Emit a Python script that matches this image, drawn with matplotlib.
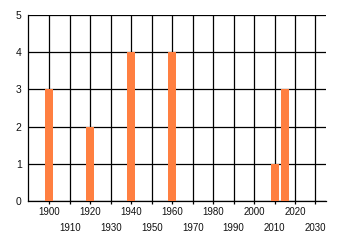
import matplotlib
matplotlib.use("Agg")
import matplotlib.pyplot as plt

years = [1900, 1920, 1940, 1960, 2010, 2015]
values = [3, 2, 4, 4, 1, 3]
xticks = list(range(1900, 2031, 10))
yticks = [0, 1, 2, 3, 4, 5]

plt.rcParams['font.family'] = ['Liberation Sans', 'DejaVu Sans']

fig = plt.figure(figsize=(3.4, 2.45), dpi=100)
ax = fig.add_axes([28/340, 1-201/245, (325.7-28)/340, (201-15)/245])

ax.bar(years, values, width=3.9, color='#FF7F40', zorder=3)

ax.set_xlim(1889.5, 2035)
ax.set_ylim(0, 5)
ax.set_xticks(xticks)
labels = [str(y) if i % 2 == 0 else "\n" + str(y) for i, y in enumerate(xticks)]
ax.set_xticklabels(labels, fontsize=7, color='#111111')
for lab in ax.get_xticklabels():
    lab.set_linespacing(1.7)
ax.set_yticks(yticks)
ax.set_yticklabels([str(v) for v in yticks], fontsize=7.5, color='#111111')

ax.grid(True, color='black', linewidth=0.9, zorder=1)
ax.set_axisbelow(True)
ax.tick_params(axis='x', length=2, width=0.9, pad=2.5, color='black')
ax.tick_params(axis='y', length=0, pad=4.5)
for s in ['right']:
    ax.spines[s].set_visible(False)
ax.spines['top'].set_visible(False)
ax.spines['left'].set_linewidth(0.9)
ax.spines['bottom'].set_linewidth(0.9)

fig.savefig('out.png', dpi=100)
